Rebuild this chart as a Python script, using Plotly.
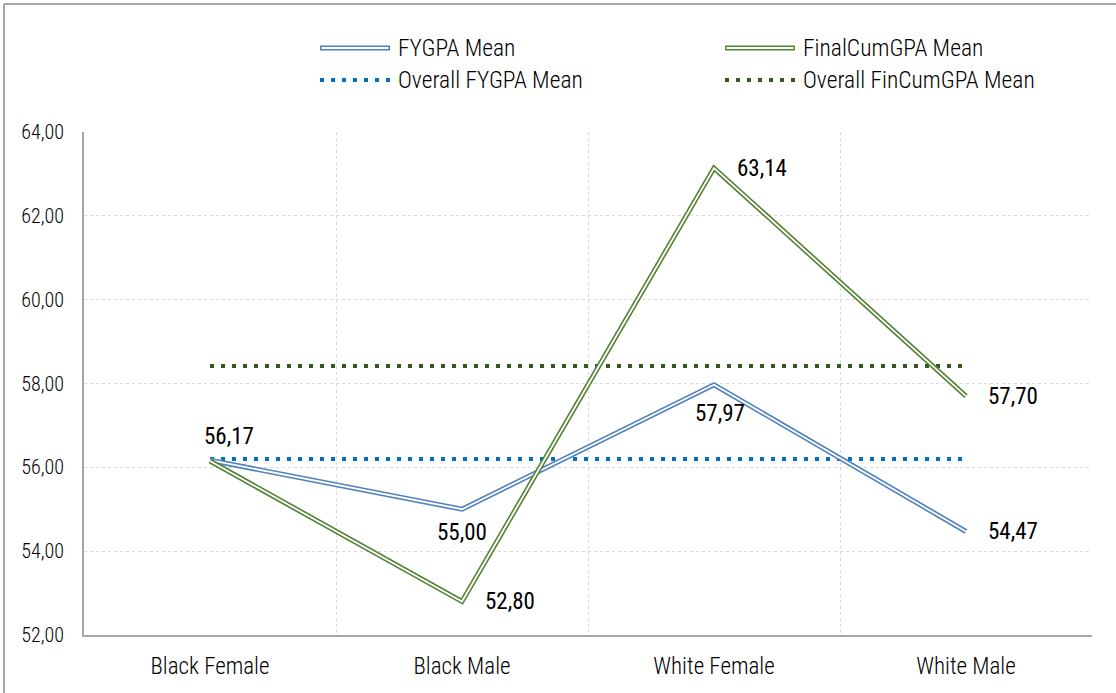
import plotly.graph_objects as go

categories = ["Black Female", "Black Male", "White Female", "White Male"]
fygpa_mean = [56.17, 55.00, 57.97, 54.47]
fincum_mean = [56.15, 52.80, 63.14, 57.70]
overall_fygpa = 56.20
overall_fincum = 58.42
fygpa_labels = ["56,17", "55,00", "57,97", "54,47"]
fincum_labels = ["", "52,80", "63,14", "57,70"]
series_names = ["FYGPA Mean", "FinalCumGPA Mean", "Overall FYGPA Mean", "Overall FinCumGPA Mean"]

FONT = "Roboto Condensed, Liberation Sans Narrow, Arial Narrow, sans-serif"
BLUE = "#4F81BD"
GREEN = "#538135"
DBLUE = "#0070C0"
DGREEN = "#375623"

W, H = 1116, 693
L, R, T, B = 84, 1092, 132, 635

def px(x):
    return (x - L) / (R - L)

def py(y):
    return (B - y) / (B - T)

fig = go.Figure()

# overall mean dotted lines
fig.add_trace(go.Scatter(x=categories, y=[overall_fygpa] * len(categories), mode="lines",
                         line=dict(color=DBLUE, width=4, dash="4px,7px"), showlegend=False,
                         name=series_names[2]))
fig.add_trace(go.Scatter(x=categories, y=[overall_fincum] * len(categories), mode="lines",
                         line=dict(color=DGREEN, width=4, dash="4px,7px"), showlegend=False,
                         name=series_names[3]))

# double lines: thick colored + thin white
for vals, col, nm in [(fygpa_mean, BLUE, series_names[0]), (fincum_mean, GREEN, series_names[1])]:
    fig.add_trace(go.Scatter(x=categories, y=vals, mode="lines",
                             line=dict(color=col, width=5), showlegend=False, name=nm))
    fig.add_trace(go.Scatter(x=categories, y=vals, mode="lines",
                             line=dict(color="white", width=1.8), showlegend=False,
                             hoverinfo="skip"))

LABEL_FONT = dict(family=FONT, size=23, color="#000000", weight=400)
annotations = []
fy_shift = [(19, 24), (0, -23), (6, -29), (47, 0)]
fc_shift = [(0, 0), (48, 0), (48, 0), (47, 0)]
for i, c in enumerate(categories):
    if fygpa_labels[i]:
        annotations.append(dict(x=c, y=fygpa_mean[i], xref="x", yref="y", text=fygpa_labels[i],
                                showarrow=False, xshift=fy_shift[i][0], yshift=fy_shift[i][1],
                                font=LABEL_FONT))
    if fincum_labels[i]:
        annotations.append(dict(x=c, y=fincum_mean[i], xref="x", yref="y", text=fincum_labels[i],
                                showarrow=False, xshift=fc_shift[i][0], yshift=fc_shift[i][1],
                                font=LABEL_FONT))

shapes = []
# outer chart border (left and top edges visible)
shapes.append(dict(type="line", xref="paper", yref="paper", x0=px(4), x1=px(4), y0=py(H), y1=py(4),
                   line=dict(color="#A6A6A6", width=2), layer="below"))
shapes.append(dict(type="line", xref="paper", yref="paper", x0=px(4), x1=px(W), y0=py(4), y1=py(4),
                   line=dict(color="#A6A6A6", width=2), layer="below"))

# manual legend
leg = [
    (320, 48, BLUE, "double", series_names[0]),
    (725, 48, GREEN, "double", series_names[1]),
    (320, 80, DBLUE, "dot", series_names[2]),
    (725, 80, DGREEN, "dot", series_names[3]),
]
for x0, y0, col, kind, nm in leg:
    if kind == "double":
        shapes.append(dict(type="line", xref="paper", yref="paper", x0=px(x0), x1=px(x0 + 70),
                           y0=py(y0), y1=py(y0), line=dict(color=col, width=5)))
        shapes.append(dict(type="line", xref="paper", yref="paper", x0=px(x0 + 1.5), x1=px(x0 + 68.5),
                           y0=py(y0), y1=py(y0), line=dict(color="white", width=1.8)))
    else:
        shapes.append(dict(type="line", xref="paper", yref="paper", x0=px(x0), x1=px(x0 + 72),
                           y0=py(y0), y1=py(y0), line=dict(color=col, width=4, dash="4px,7px")))
    annotations.append(dict(x=px(x0 + 76), y=py(y0), xref="paper", yref="paper", text=nm,
                            showarrow=False, xanchor="left", yanchor="middle",
                            font=dict(family=FONT, size=23.5, color="#000000", weight=300)))

fig.update_layout(
    width=W, height=H,
    margin=dict(l=L, r=W - R, t=T, b=H - B),
    paper_bgcolor="white", plot_bgcolor="white",
    separators=", ",
    showlegend=False,
    font=dict(family=FONT, size=20, color="#000000", weight=300),
    annotations=annotations,
    shapes=shapes,
    xaxis=dict(type="category", range=[-0.5, 3.5], tickson="boundaries", ticks="",
               showgrid=True, gridcolor="#D9D9D9", griddash="dot", gridwidth=1,
               showline=True, linecolor="#A6A6A6", linewidth=2, automargin=False,
               tickfont=dict(family=FONT, size=23, color="#000000", weight=300), ticklabelstandoff=9,
               fixedrange=True),
    yaxis=dict(range=[52, 64], dtick=2, tick0=52, tickformat=".2f", ticks="",
               showgrid=True, gridcolor="#D9D9D9", griddash="dot", gridwidth=1,
               showline=True, linecolor="#A6A6A6", linewidth=2, zeroline=False, automargin=False,
               tickfont=dict(family=FONT, size=20, color="#000000", weight=300), ticklabelstandoff=14,
               fixedrange=True),
)

fig.write_html("out.html", config={"displayModeBar": False},
               post_script="document.body.style.margin='0px';")
